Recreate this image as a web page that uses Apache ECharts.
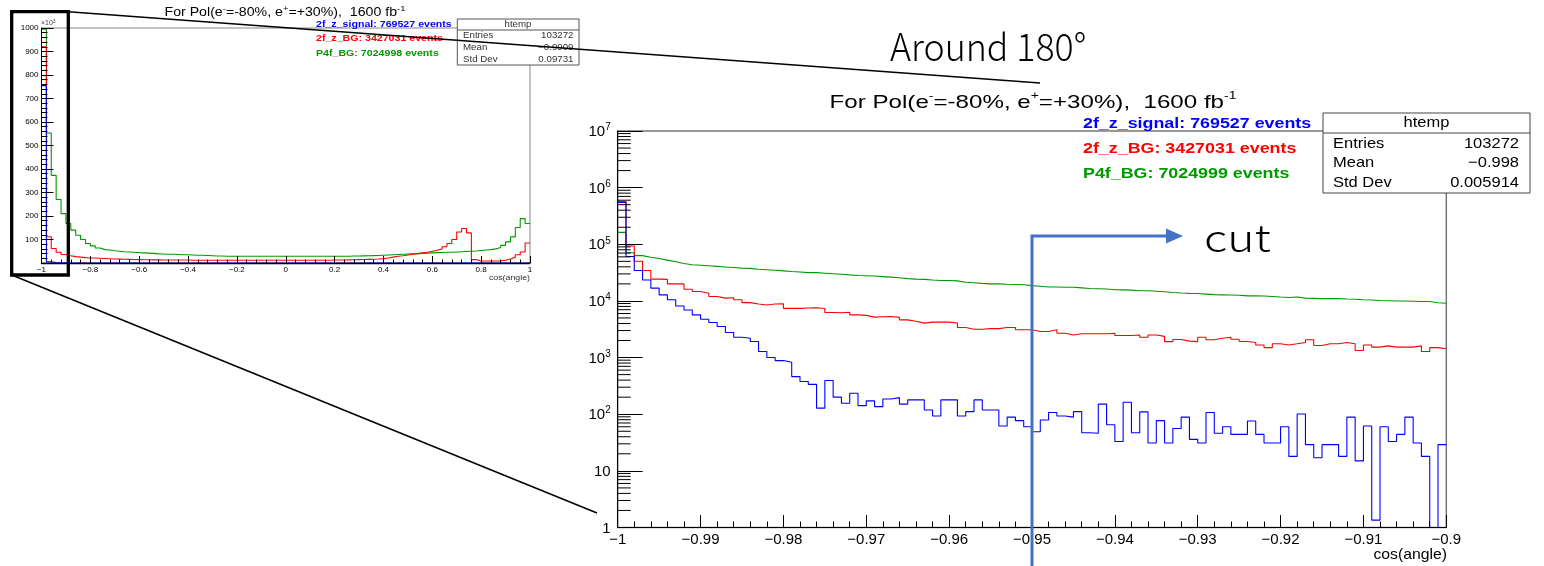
<!DOCTYPE html>
<html><head><meta charset="utf-8">
<script src="https://cdn.jsdelivr.net/npm/echarts@6.0.0/dist/echarts.min.js"></script>
<style>html,body{margin:0;padding:0;background:#fff}#c{width:1544px;height:566px}</style>
</head><body><div id="c"></div>
<script>
// ---------------- DATA ----------------
// Full range histogram: cos(angle) in [-1, 1], 100 bins of width 0.02, counts in units of 10^3
const fullStart = -1, fullBinWidth = 0.02;
const fullSignal = [755, 4.85, 1.9, 1.2, 0.77, 0, 0, 0, 0, 0,
  0,0,0,0,0,0,0,0,0,0, 0,0,0,0,0,0,0,0,0,0, 0,0,0,0,0,0,0,0,0,0,
  0,0,0,0,0,0,0,0,0,0, 0,0,0,0,0,0,0,0,0,0, 0,0,0,0,0,0,0,0,0,0,
  0,0,0,0,0,0,0,0,0,0, 0,0,0,0,0,0,0,0,0,0, 0,0,0,0,0,0,0,0,0,0];
const fullZBG = [920, 112, 62, 46, 36, 31, 27, 25, 23, 21.5,
  21, 20, 19, 18, 17, 16.5, 16, 15.5, 15, 14.5,
  14, 14, 13.5, 13.5, 13, 13, 13, 12.5, 12.5, 12.5,
  12, 12, 12, 12, 12, 11.8, 11.8, 11.8, 11.5, 11.5,
  11.5, 11.5, 11.5, 11.5, 11.5, 11.5, 11.5, 11.5, 11.5, 11.5,
  11.5, 11.5, 11.5, 11.5, 11.5, 11.8, 11.8, 12, 12, 12.5,
  12.5, 13, 13.5, 14, 14.5, 15, 15.5, 16, 17, 18.8,
  21, 25, 28.6, 31, 34, 37, 40, 43, 46, 50,
  54, 60, 69, 83, 100, 132, 147, 128, 14.5, 8.5,
  8.5, 8.5, 8.5, 9, 11.5, 17, 25, 35, 47, 85];
const fullP4f = [995, 553, 373, 270, 210, 168, 140, 118, 100, 83,
  73, 64, 57, 55, 52, 50, 48, 47, 46, 44,
  43, 42, 41, 39, 38, 37, 37, 36, 35, 35,
  34, 33, 33, 32, 31, 30, 29.5, 29, 28.8, 28.7,
  28.6, 28.6, 28.5, 28.5, 28.6, 28.6, 28.5, 28.5, 28.6, 28.6,
  28.6, 28.6, 28.5, 28.5, 28.6, 28.6, 28.6, 28.7, 28.7, 28.8,
  28.8, 29, 29, 29.5, 30, 30.5, 31, 31.5, 32, 33,
  34, 35, 36, 37, 38, 39, 40, 41, 42, 43,
  44, 45, 46, 46, 47, 48, 49, 50, 51, 53,
  55, 57, 60, 66, 75, 90, 111, 151, 189, 168];

// Zoomed histogram: cos(angle) in [-1, -0.9], 100 bins of width 0.001, counts
const zoomStart = -1, zoomBinWidth = 0.001;
const zoomSignal = [550000, 61000, 34400, 23400, 16800, 12800, 10500, 8130, 6920, 5680,
  4760, 4160, 3530, 2770, 2290, 2200, 1920, 1280, 1000, 885,
  828, 461, 377, 337, 128, 393, 200, 156, 235, 142,
  172, 136, 186, 196, 151, 179, 179, 119, 93, 179,
  179, 93, 111, 179, 119, 119, 62, 89, 77, 60,
  49, 79, 107, 93, 89, 111, 47, 46, 151, 65,
  33, 163, 47, 110, 31, 77, 31, 56, 89, 36,
  31, 107, 46, 60, 44, 44, 76, 44, 31, 31,
  60, 18, 101, 29, 17, 29, 29, 18, 89, 15,
  62, 1.35, 60, 33, 44, 89, 31, 18, 0, 29];
const zoomZBG = [570000, 93000, 50100, 34400, 24300, 24000, 20000, 20000, 16100, 14700,
  13700, 12000, 11200, 11400, 10500, 9330, 8800, 8500, 8800, 8900,
  7400, 7400, 7500, 7600, 7330, 6240, 6170, 6300, 5680, 5560,
  5180, 5250, 5310, 5130, 4630, 4370, 4060, 4230, 4230, 4230,
  4070, 3390, 3160, 3160, 3240, 3240, 3390, 3390, 3090, 3090,
  2880, 2880, 3090, 2690, 2510, 2630, 2630, 2630, 2630, 2690,
  2450, 2450, 2510, 2290, 2510, 2370, 1910, 2090, 1950, 1910,
  2290, 2060, 2200, 2290, 2110, 1920, 1840, 1670, 1500, 1750,
  1670, 1750, 1840, 2060, 1630, 1750, 1750, 1840, 1750, 1330,
  1670, 1530, 1610, 1530, 1530, 1530, 1610, 1280, 1500, 1430];
const zoomP4f = [162000, 70800, 63100, 58900, 56200, 52500, 49000, 45700, 43600, 42700,
  41700, 40700, 39800, 38900, 38000, 37600, 36300, 35500, 34700, 33900,
  33100, 32400, 31600, 31600, 30900, 30200, 29500, 28800, 28200, 27900,
  27500, 26900, 26300, 25700, 24800, 24300, 24000, 23400, 22900, 22900,
  22600, 21400, 20900, 20400, 20000, 20000, 19700, 19500, 19300, 18600,
  18200, 17600, 17600, 17400, 17400, 17000, 16600, 16400, 16200, 15800,
  15700, 15500, 15100, 15100, 14800, 14500, 14100, 13800, 13600, 13500,
  13200, 12900, 12800, 12700, 12600, 12300, 12300, 12200, 12000, 11700,
  11500, 11700, 11200, 11100, 11000, 11000, 11000, 10800, 10700, 10500,
  10400, 10200, 10100, 10000, 10000, 9900, 9800, 9800, 9300, 9100];

const legendTexts = ['2f_z_signal: 769527 events', '2f_z_BG: 3427031 events'];
const legendP4fFull = 'P4f_BG: 7024998 events';
const legendP4fZoom = 'P4f_BG: 7024999 events';
const statsFull = [['Entries', '103272'], ['Mean', '\u22120.9909'], ['Std Dev', '0.09731']];
const statsZoom = [['Entries', '103272'], ['Mean', '\u22120.998'], ['Std Dev', '0.005914']];
const cutValue = -0.95;

// ---------------- CHART ----------------
const FONT = '"Liberation Sans", Arial, Helvetica, sans-serif';
const JP = '"Noto Sans CJK JP", "Noto Sans", sans-serif';
const C_BLUE = '#0000ff', C_RED = '#ff0000', C_GREEN = '#009a00';

function steps(start, w, vals, floor) {
  const pts = vals.map((v, i) => [+(start + i * w).toFixed(4), floor != null ? Math.max(v, floor) : v]);
  pts.push([+(start + vals.length * w).toFixed(4), pts[pts.length - 1][1]]);
  return pts;
}
const minus = v => String(v).replace('-', '\u2212');

const G1 = {left: 41.5, top: 28, width: 488.5, height: 235};
const G2 = {left: 617.7, top: 131, width: 828.6, height: 396.5};

function histSeries(xi, data, color) {
  return {type: 'line', xAxisIndex: xi, yAxisIndex: xi, step: 'end', data: data,
    showSymbol: false, symbol: 'none', animation: false, clip: true, z: 2,
    lineStyle: {color: color, width: 1.1}, itemStyle: {color: color}, silent: true};
}

// log minor ticks positions (2..9 x 10^k)
const logMinor = [];
for (let k = 0; k < 7; k++) for (let m = 2; m <= 9; m++) logMinor.push([-1, m * Math.pow(10, k)]);

function txt(x, y, text, o, sx) {
  o = o || {};
  return {type: 'text', x: x, y: y, z: 100, silent: true, scaleX: sx || 1, scaleY: 1,
    style: Object.assign({text: text, fill: '#000', fontFamily: FONT, fontSize: 12,
      align: 'left', verticalAlign: 'middle', textAlign: 'left', textVerticalAlign: 'middle'}, o)};
}

const option = {
  backgroundColor: '#fff',
  animation: false,
  grid: [
    Object.assign({show: true, borderColor: '#888', borderWidth: 1, backgroundColor: 'transparent', containLabel: false, outerBoundsMode: 'none'}, G1),
    Object.assign({show: true, borderColor: '#777', borderWidth: 1.5, backgroundColor: 'transparent', containLabel: false, outerBoundsMode: 'none'}, G2)
  ],
  xAxis: [
    {type: 'value', gridIndex: 0, min: -1, max: 1, interval: 0.2, z: 10,
      axisLine: {show: true, onZero: false, lineStyle: {color: '#000', width: 1.4}},
      axisTick: {show: true, inside: true, length: 7, lineStyle: {color: '#000'}},
      minorTick: {show: true, splitNumber: 5, length: 3.5, lineStyle: {color: '#000'}},
      splitLine: {show: false}, minorSplitLine: {show: false},
      axisLabel: {fontSize: 8, fontFamily: FONT, color: '#000', margin: 3, formatter: minus, showMinLabel: true, showMaxLabel: true}},
    {type: 'value', gridIndex: 1, min: -1, max: -0.9, interval: 0.01, z: 10,
      axisLine: {show: true, onZero: false, lineStyle: {color: '#000', width: 1}},
      axisTick: {show: true, inside: true, length: 12.5, lineStyle: {color: '#000'}},
      minorTick: {show: true, splitNumber: 5, length: 6, lineStyle: {color: '#000'}},
      splitLine: {show: false}, minorSplitLine: {show: false},
      axisLabel: {fontSize: 15, fontFamily: FONT, color: '#000', margin: 5, formatter: minus, showMinLabel: true, showMaxLabel: true}}
  ],
  yAxis: [
    {type: 'value', gridIndex: 0, min: 0, max: 1000, interval: 100, z: 10,
      axisLine: {show: true, onZero: false, lineStyle: {color: '#000', width: 1}},
      axisTick: {show: true, inside: true, length: 12, lineStyle: {color: '#000'}},
      minorTick: {show: true, splitNumber: 5, length: 6, lineStyle: {color: '#000'}},
      splitLine: {show: false}, minorSplitLine: {show: false},
      axisLabel: {fontSize: 8, fontFamily: FONT, color: '#000', margin: 3, formatter: v => v === 0 ? '' : String(v)}},
    {type: 'log', gridIndex: 1, logBase: 10, min: 1, max: 1e7, interval: 1, z: 10,
      axisLine: {show: true, onZero: false, lineStyle: {color: '#000', width: 1}},
      axisTick: {show: true, inside: true, length: 25, lineStyle: {color: '#000'}},
      splitLine: {show: false}, minorTick: {show: false}, minorSplitLine: {show: false},
      axisLabel: {fontFamily: FONT, color: '#000', margin: 7,
        formatter: v => {
          const e = Math.round(Math.log10(v));
          if (e === 0) return '{b|1}';
          if (e === 1) return '{b|10}';
          return '{b|10}{s|' + e + '}';
        },
        rich: {b: {fontSize: 15, lineHeight: 17, verticalAlign: 'bottom', fontFamily: FONT, color: '#000'},
               s: {fontSize: 10, lineHeight: 9, verticalAlign: 'top', fontFamily: FONT, color: '#000'}}}}
  ],
  series: [
    histSeries(0, steps(fullStart, fullBinWidth, fullP4f), C_GREEN),
    histSeries(0, steps(fullStart, fullBinWidth, fullZBG), C_RED),
    histSeries(0, steps(fullStart, fullBinWidth, fullSignal), C_BLUE),
    histSeries(1, steps(zoomStart, zoomBinWidth, zoomP4f, 0.01), C_GREEN),
    histSeries(1, steps(zoomStart, zoomBinWidth, zoomZBG, 0.01), C_RED),
    histSeries(1, steps(zoomStart, zoomBinWidth, zoomSignal, 0.01), C_BLUE),
    {type: 'custom', xAxisIndex: 1, yAxisIndex: 1, data: logMinor, silent: true, z: 6, clip: false,
      encode: {x: 0, y: 1},
      renderItem: (params, api) => {
        const p = api.coord([api.value(0), api.value(1)]);
        return {type: 'line', shape: {x1: p[0], y1: p[1], x2: p[0] + 13, y2: p[1]},
          style: {stroke: '#000', lineWidth: 1}};
      }}
  ],
  graphic: []
};

const chart = echarts.init(document.getElementById('c'), null, {renderer: 'canvas'});
chart.setOption(option);

// ---------- annotations / texts ----------
const g = [];
function titleText(x, y, fs, supFs, sx) {
  return {type: 'text', x: x, y: y, z: 100, silent: true, scaleX: sx, scaleY: 1,
    style: {text: '{t|For Pol(e}{s|-}{t|=-80%, e}{s|+}{t|=+30%),  1600 fb}{s|-1}',
      align: 'center', verticalAlign: 'middle', textAlign: 'center', textVerticalAlign: 'middle',
      rich: {t: {fontSize: fs, fontFamily: FONT, color: '#000', lineHeight: Math.round(fs * 1.15), verticalAlign: 'bottom'},
             s: {fontSize: supFs, fontFamily: FONT, color: '#000', lineHeight: supFs, verticalAlign: 'top'}}}};
}
// small chart
g.push(titleText(285, 12, 12, 8, 1.18));
g.push(txt(41, 23, '\u00d710{s|3}', {fontSize: 7, fill: '#444', rich: {s: {fontSize: 5, verticalAlign: 'top', lineHeight: 5, fontFamily: FONT, color: '#444'}}}));
g.push(txt(316, 25, legendTexts[0], {fontSize: 9, fontWeight: 'bold', fill: C_BLUE}, 1.18));
g.push(txt(316, 39, legendTexts[1], {fontSize: 9, fontWeight: 'bold', fill: C_RED}, 1.18));
g.push(txt(316, 53.5, legendP4fFull, {fontSize: 9, fontWeight: 'bold', fill: C_GREEN}, 1.18));
g.push({type: 'rect', z: 99, silent: true, shape: {x: 457.3, y: 19, width: 121.7, height: 46}, style: {fill: '#fff', stroke: '#555', lineWidth: 1}});
g.push({type: 'line', z: 99, silent: true, shape: {x1: 457.3, y1: 30, x2: 579, y2: 30}, style: {stroke: '#555', lineWidth: 1}});
g.push(txt(518, 24.5, 'htemp', {fontSize: 9, align: 'center', textAlign: 'center', fill: '#333'}, 1.08));
statsFull.forEach((r, i) => {
  g.push(txt(463, 36 + i * 12, r[0], {fontSize: 9, fill: '#333'}, 1.08));
  g.push(txt(573.5, 36 + i * 12, r[1], {fontSize: 9, fill: '#333', align: 'right', textAlign: 'right'}, 1.08));
});
g.push(txt(530, 278, 'cos(angle)', {fontSize: 8, align: 'right', textAlign: 'right', fill: '#333'}, 1.1));

// big chart
g.push(titleText(1033, 101, 19, 11, 1.27));
g.push(txt(1083, 124, legendTexts[0], {fontSize: 15, fontWeight: 'bold', fill: C_BLUE}, 1.19));
g.push(txt(1083, 149, legendTexts[1], {fontSize: 15, fontWeight: 'bold', fill: C_RED}, 1.19));
g.push(txt(1083, 174, legendP4fZoom, {fontSize: 15, fontWeight: 'bold', fill: C_GREEN}, 1.19));
g.push({type: 'rect', z: 99, silent: true, shape: {x: 1323, y: 113, width: 207, height: 80}, style: {fill: '#fff', stroke: '#444', lineWidth: 1}});
g.push({type: 'line', z: 99, silent: true, shape: {x1: 1323, y1: 133, x2: 1530, y2: 133}, style: {stroke: '#444', lineWidth: 1}});
g.push(txt(1426.5, 123, 'htemp', {fontSize: 15, align: 'center', textAlign: 'center'}, 1.1));
statsZoom.forEach((r, i) => {
  g.push(txt(1333, 143.5 + i * 19.7, r[0], {fontSize: 15}, 1.1));
  g.push(txt(1519, 143.5 + i * 19.7, r[1], {fontSize: 15, align: 'right', textAlign: 'right'}, 1.1));
});
g.push(txt(1447, 555, 'cos(angle)', {fontSize: 15, align: 'right', textAlign: 'right'}, 1.05));

// zoom annotation box & lines
g.push({type: 'rect', z: 110, silent: true, shape: {x: 11.7, y: 11.7, width: 56.6, height: 263.3}, style: {fill: 'none', stroke: '#000', lineWidth: 3.3}});
g.push({type: 'line', z: 110, silent: true, shape: {x1: 68.3, y1: 11.7, x2: 1040, y2: 83}, style: {stroke: '#000', lineWidth: 1.5}});
g.push({type: 'line', z: 110, silent: true, shape: {x1: 11.7, y1: 275, x2: 597, y2: 513}, style: {stroke: '#000', lineWidth: 1.5}});
g.push(txt(890, 47, 'Around 180\u00b0', {fontSize: 38, fontFamily: JP, fontWeight: 300}, 0.94));

// cut line
const cutX = chart.convertToPixel({xAxisIndex: 1}, cutValue);
const CUT = '#4472c4';
g.push({type: 'polyline', z: 110, silent: true, shape: {points: [[cutX, 566], [cutX, 236], [1168, 236]]}, style: {stroke: CUT, lineWidth: 3, fill: 'none'}});
g.push({type: 'polygon', z: 110, silent: true, shape: {points: [[1166, 228.5], [1183, 236], [1166, 243.5]]}, style: {fill: CUT}});
g.push(txt(1204, 238, 'cut', {fontSize: 38, fontFamily: JP, fontWeight: 300}, 1.22));

chart.setOption({graphic: g});
</script></body></html>
